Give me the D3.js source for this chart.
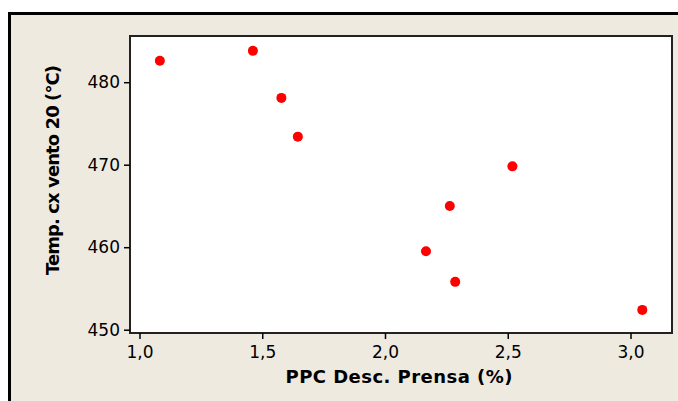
<!DOCTYPE html>
<html>
<head>
<meta charset="utf-8">
<script src="https://cdn.jsdelivr.net/npm/d3@7"></script>
<style>
  body { margin: 0; background: #fff; }
  .tick text { font-family: "DejaVu Sans", sans-serif; font-size: 17px; fill: #000; }
  .axisTitle { font-family: "DejaVu Sans", sans-serif; font-size: 18px; font-weight: bold; fill: #000; }
</style>
</head>
<body>
<div id="chart"></div>
<script>
const width = 678;
const height = 401;

// PPC Desc. Prensa (%) vs Temp. cx vento 20 (°C)
const ppc  = [1.083, 1.462, 1.578, 1.645, 2.519, 2.264, 2.167, 2.286, 3.048];
const temp = [482.6, 483.8, 478.1, 473.4, 469.8, 465.0, 459.5, 455.8, 452.4];

const xTicks = [1.0, 1.5, 2.0, 2.5, 3.0];
const yTicks = [450, 460, 470, 480];

const xTitle = "PPC Desc. Prensa (%)";
const yTitle = "Temp. cx vento 20 (°C)";

const margin = {top: 36, right: 6, bottom: 68, left: 130};

const svg = d3.select("#chart").append("svg")
   .attr("width", width)
   .attr("height", height);

// outer panel
svg.append("rect")
   .attr("x", 9.5).attr("y", 13.5)
   .attr("width", width + 20).attr("height", height + 20)
   .style("fill", "#eeeae0")
   .style("stroke", "#000")
   .style("stroke-width", 3);

const x = d3.scaleLinear()
   .domain([0.9614, 3.169])
   .range([margin.left, width - margin.right]);

const y = d3.scaleLinear()
   .domain([449.6, 485.6])
   .range([height - margin.bottom, margin.top]);

// plot area
svg.append("rect")
   .attr("x", margin.left).attr("y", margin.top)
   .attr("width", width - margin.right - margin.left)
   .attr("height", height - margin.bottom - margin.top)
   .style("fill", "#fff")
   .style("stroke", "#222")
   .style("stroke-width", 2);

const fmt = d3.format(".1f");

svg.append("g")
   .attr("transform", `translate(0,${height - margin.bottom})`)
   .call(d3.axisBottom(x).tickValues(xTicks).tickSize(6).tickPadding(7)
      .tickFormat(d => fmt(d).replace(".", ",")))
   .call(g => g.select(".domain").remove())
   .call(g => g.selectAll(".tick line").style("stroke", "#000").style("stroke-width", 1.5));

svg.append("g")
   .attr("transform", `translate(${margin.left},0)`)
   .call(d3.axisLeft(y).tickValues(yTicks).tickSize(6).tickPadding(4))
   .call(g => g.select(".domain").remove())
   .call(g => g.selectAll(".tick line").style("stroke", "#000").style("stroke-width", 1.5));

// points
svg.selectAll("circle.pt")
   .data(ppc.map((d, i) => ({x: d, y: temp[i]})))
   .enter()
   .append("circle")
   .attr("class", "pt")
   .attr("cx", d => x(d.x))
   .attr("cy", d => y(d.y))
   .attr("r", 5)
   .style("fill", "#ff0000");

// axis titles
svg.append("text")
   .attr("class", "axisTitle")
   .attr("x", 399)
   .attr("y", 383)
   .attr("text-anchor", "middle")
   .attr("textLength", 227)
   .text(xTitle);

svg.append("text")
   .attr("class", "axisTitle")
   .attr("transform", "translate(59,170) rotate(-90)")
   .attr("text-anchor", "middle")
   .attr("textLength", 210)
   .text(yTitle);
</script>
</body>
</html>
